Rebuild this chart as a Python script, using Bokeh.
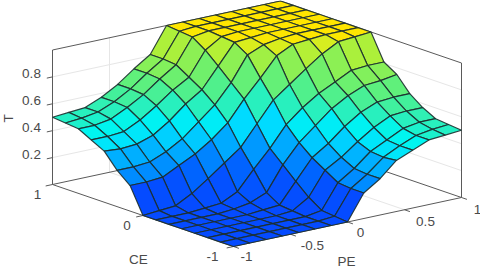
import numpy as np
from bokeh.plotting import figure
from bokeh.embed import file_html
from bokeh.resources import INLINE
from bokeh.core.properties import value

PE = [-1 + i / 7 for i in range(15)]
CE = [-1 + j / 7 for j in range(15)]
# T[i][j]: i = PE index, j = CE index
T = [
 [0,0,0,0,0,0,0,0,.19,.27,.38,.43,.48,.49,.50],
 [0,0,0,0,0,0,0,.01,.19,.27,.37,.43,.48,.50,.51],
 [0,0,0,0,0,0,0,.02,.20,.28,.38,.44,.50,.52,.52],
 [0,0,0,0,0,0,.01,.085,.26,.33,.42,.50,.56,.57,.57],
 [0,0,0,0,0,.01,.02,.17,.32,.40,.50,.58,.63,.64,.64],
 [0,0,0,0,.01,.03,.08,.26,.40,.50,.60,.67,.72,.73,.73],
 [0,0,0,.01,.02,.08,.22,.35,.50,.60,.68,.74,.80,.81,.81],
 [0,.01,.02,.085,.17,.26,.35,.50,.65,.74,.83,.915,.98,.99,1],
 [.19,.19,.20,.26,.32,.40,.50,.65,.78,.92,.98,.99,1,1,1],
 [.27,.27,.28,.33,.40,.50,.60,.74,.92,.97,.99,1,1,1,1],
 [.38,.37,.38,.42,.50,.60,.68,.83,.98,.99,1,1,1,1,1],
 [.43,.43,.44,.50,.58,.67,.74,.915,.99,1,1,1,1,1,1],
 [.48,.48,.50,.56,.63,.72,.80,.98,1,1,1,1,1,1,1],
 [.49,.50,.52,.57,.64,.73,.81,.99,1,1,1,1,1,1,1],
 [.50,.51,.52,.57,.64,.75,.81,1,1,1,1,1,1,1,1],
]
pe_ticks = [-1, -0.5, 0, 0.5, 1]
pe_labels = ["-1", "-0.5", "0", "0.5", "1"]
ce_ticks = [-1, 0, 1]
ce_labels = ["-1", "0", "1"]
z_ticks = [0.2, 0.4, 0.6, 0.8]
z_labels = ["0.2", "0.4", "0.6", "0.8"]

stop_z = [0, .1, .19, .27, .36, .43, .5, .6, .7, .8, .9, .97, 1]
stop_r = [5, 0, 0, 0, 0, 0, 40, 80, 120, 170, 205, 250, 255]
stop_g = [75, 105, 140, 175, 225, 245, 240, 240, 240, 240, 240, 232, 230]
stop_b = [255, 255, 255, 255, 255, 240, 190, 140, 100, 60, 40, 5, 0]

pe_dx = [13, 22, 13, 21, 16]
pe_dy = [11, 12, 11.5, 13, 13]
ce_dx = [-21, -16, -15]


def proj(pe, ce, z):
    return (256.5 + 114 * pe - 90.5 * ce, 190.5 - 24.5 * pe - 31 * ce - 134.5 * z)


def col(z):
    return "#%02x%02x%02x" % (int(np.interp(z, stop_z, stop_r)), int(np.interp(z, stop_z, stop_g)), int(np.interp(z, stop_z, stop_b)))


p = figure(width=480, height=270, x_range=(0, 480), y_range=(270, 0), x_axis_type=None, y_axis_type=None,
           toolbar_location=None, output_backend="svg", min_border=0, outline_line_color=None,
           margin=(0, 0, 0, 0))
p.grid.visible = False


def seg(a, b, color, width=1.0):
    x0, y0 = proj(*a)
    x1, y1 = proj(*b)
    p.line([x0, x1], [y0, y1], line_color=color, line_width=width)


GRID = "#e6e6e6"
AX = "#5a5a5a"
for z in z_ticks:
    seg((-1, 1, z), (1, 1, z), GRID)
    seg((1, 1, z), (1, -1, z), GRID)
for t in pe_ticks[1:-1]:
    seg((t, 1, 0), (t, 1, 1), GRID)
    seg((t, -1, 0), (t, 1, 0), GRID)
seg((1, 0, 0), (1, 0, 1), GRID)
seg((-1, 0, 0), (1, 0, 0), GRID)
# back box
seg((-1, 1, 0), (1, 1, 0), AX)
seg((1, -1, 0), (1, 1, 0), AX)
seg((-1, 1, 0), (-1, 1, 1), AX)
seg((1, -1, 0), (1, -1, 1), AX)
seg((-1, 1, 1), (1, 1, 1), AX)
seg((1, -1, 1), (1, 1, 1), AX)
# front floor edges
seg((-1, -1, 0), (-1, 1, 0), AX)
seg((-1, -1, 0), (1, -1, 0), AX)
# ticks
for t in pe_ticks:
    x, y = proj(t, -1, 0)
    x1, y1 = proj(t, -1.06, 0)
    p.line([x, x1], [y, y1], line_color=AX)
for t in ce_ticks:
    x, y = proj(-1, t, 0)
    x1, y1 = proj(-1.06, t, 0)
    p.line([x, x1], [y, y1], line_color=AX)
for z in z_ticks:
    x, y = proj(-1, 1, z)
    x1, y1 = proj(-1.05, 1, z)
    p.line([x, x1], [y, y1], line_color=AX)

xs, ys, cs = [], [], []
for i in range(13, -1, -1):
    for j in range(13, -1, -1):
        c = [proj(PE[i + a], CE[j + b], T[i + a][j + b]) for a, b in ((0, 0), (1, 0), (1, 1), (0, 1))]
        xs.append([q[0] for q in c])
        ys.append([q[1] for q in c])
        cs.append(col(T[i][j]))
p.patches(xs, ys, fill_color=cs, line_color="#1c2f2f", line_width=1.2, line_alpha=0.9)

F = value("Liberation Sans")
TXT = "#4a4a4a"
SZ = "13.5px"


def label(x, y, s, angle=0):
    p.text([x], [y], text=[s], text_font=F, text_font_size=SZ, text_color=TXT,
           text_align="center", text_baseline="middle", angle=angle)


for t, s in zip(z_ticks, z_labels):
    x, y = proj(-1, 1, t)
    label(x - 21, y - 3, s)
for t, s, dx, dy in zip(pe_ticks, pe_labels, pe_dx, pe_dy):
    x, y = proj(t, -1, 0)
    label(x + dx, y + dy - 1, s)
for t, s, dx in zip(ce_ticks, ce_labels, ce_dx):
    x, y = proj(-1, t, 0)
    label(x + dx, y + 9.5, s)
label(8, 118, "T", angle=np.pi / 2)
label(138, 259, "CE")
label(346, 261, "PE")

open("out.html", "w").write(file_html(p, INLINE))
